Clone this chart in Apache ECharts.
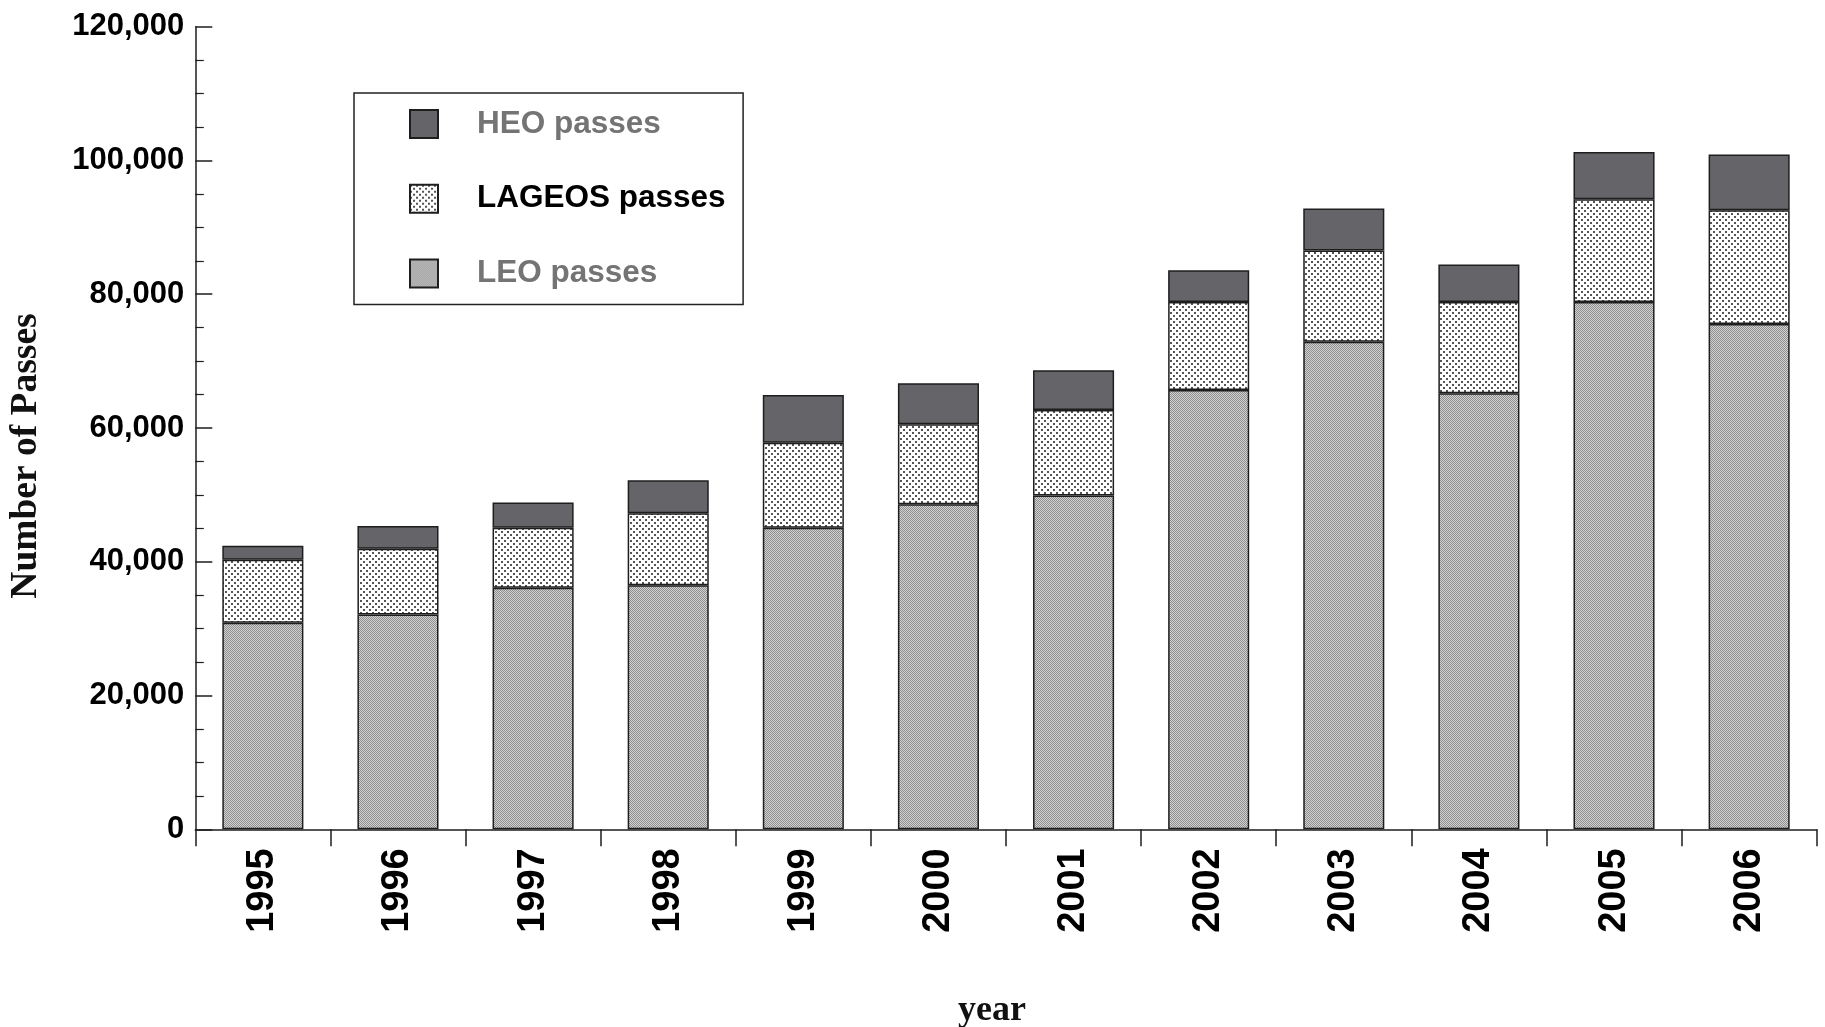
<!DOCTYPE html>
<html>
<head>
<meta charset="utf-8">
<title>Number of Passes by year</title>
<script src="https://cdn.jsdelivr.net/npm/echarts@6/dist/echarts.min.js"></script>
<style>
  html, body { margin: 0; padding: 0; background: #ffffff; }
  #chart { width: 1825px; height: 1027px; }
</style>
</head>
<body>
<div id="chart"></div>
<script>
// Yearly tracking passes, stacked by orbit class
const years = ['1995', '1996', '1997', '1998', '1999', '2000', '2001', '2002', '2003', '2004', '2005', '2006'];
const leoPasses = [30900, 32100, 36100, 36500, 45100, 48600, 49900, 65700, 72900, 65200, 78850, 75550];
const lageosPasses = [9400, 9850, 9000, 10750, 12700, 11950, 12800, 13150, 13650, 13650, 15350, 17000];
const heoPasses = [2100, 3400, 3750, 4950, 7150, 6150, 5950, 4750, 6250, 5600, 7050, 8350];
const yTicks = [0, 20000, 40000, 60000, 80000, 100000, 120000];

// Fill textures for the bar segments
function makeTile(w, h, draw) {
  const c = document.createElement('canvas');
  c.width = w; c.height = h;
  draw(c.getContext('2d'));
  return c;
}
const leoTile = makeTile(2, 2, ctx => {
  ctx.fillStyle = '#d2d2d2'; ctx.fillRect(0, 0, 2, 2);
  ctx.fillStyle = '#8e8e8e'; ctx.fillRect(0, 0, 1, 1); ctx.fillRect(1, 1, 1, 1);
});
const lageosTile = makeTile(6, 6, ctx => {
  ctx.fillStyle = '#ffffff'; ctx.fillRect(0, 0, 6, 6);
  ctx.fillStyle = '#555555'; ctx.fillRect(0, 0, 2, 2); ctx.fillRect(3, 3, 2, 2);
});
const leoFill = { image: leoTile, repeat: 'repeat' };
const lageosFill = { image: lageosTile, repeat: 'repeat' };
const heoFill = '#656468';

const edge = { borderColor: '#1e1e1e', borderWidth: 1.5 };

const chart = echarts.init(document.getElementById('chart'), null, { renderer: 'canvas' });

chart.setOption({
  backgroundColor: '#ffffff',
  animation: false,
  grid: {
    left: 195.3, right: 8.3, top: 26.7, bottom: 197.7,
    containLabel: false,
    outerBoundsMode: 'none'
  },
  legend: {
    orient: 'vertical',
    left: 354,
    top: 93,
    padding: [15, 17.5, 15, 55],
    itemWidth: 28,
    itemHeight: 28,
    itemGap: 42.7,
    icon: 'rect',
    borderColor: '#222222',
    borderWidth: 1.5,
    backgroundColor: '#ffffff',
    selectedMode: false,
    textStyle: {
      fontFamily: '"Liberation Sans", Arial, sans-serif',
      fontSize: 31.5,
      fontWeight: 'bold',
      lineHeight: 30,
      padding: [0, 0, 0, 34]
    },
    data: [
      { name: 'HEO passes', textStyle: { color: '#747474' } },
      { name: 'LAGEOS passes', textStyle: { color: '#000000' } },
      { name: 'LEO passes', textStyle: { color: '#747474' } }
    ]
  },
  xAxis: {
    type: 'category',
    data: years,
    name: 'year',
    nameLocation: 'middle',
    nameGap: 163,
    nameTextStyle: {
      fontFamily: '"Liberation Serif", "Times New Roman", serif',
      fontSize: 36,
      fontWeight: 'bold',
      color: '#111111',
      padding: [0, 28, 0, 0]
    },
    axisLine: { lineStyle: { color: '#1e1e1e', width: 1.5 } },
    axisTick: { show: true, alignWithLabel: false, inside: false, length: 17, lineStyle: { color: '#1e1e1e', width: 1.5 } },
    axisLabel: {
      rotate: 90,
      margin: 19,
      fontFamily: '"Liberation Sans", Arial, sans-serif',
      fontSize: 38,
      fontWeight: 'bold',
      color: '#000000',
      padding: [0, 0, 14, 0]
    },
    splitLine: { show: false }
  },
  yAxis: {
    type: 'value',
    min: yTicks[0],
    max: yTicks[yTicks.length - 1],
    interval: yTicks[1] - yTicks[0],
    name: 'Number of Passes',
    nameLocation: 'middle',
    nameGap: 150,
    nameTextStyle: {
      fontFamily: '"Liberation Serif", "Times New Roman", serif',
      fontSize: 37.5,
      fontWeight: 'bold',
      color: '#111111',
      padding: [0, 56, 0, 0]
    },
    axisLine: { show: true, lineStyle: { color: '#1e1e1e', width: 1.5 } },
    axisTick: { show: true, inside: true, length: 17, lineStyle: { color: '#1e1e1e', width: 1.5 } },
    minorTick: { show: true, splitNumber: 4, length: 8.5, lineStyle: { color: '#1e1e1e', width: 1.2 } },
    axisLabel: {
      margin: 11,
      fontFamily: '"Liberation Sans", Arial, sans-serif',
      fontSize: 31,
      fontWeight: 'bold',
      color: '#000000',
      padding: [0, 0, 12, 0],
      formatter: v => v.toLocaleString('en-US')
    },
    splitLine: { show: false }
  },
  series: [
    {
      name: 'LEO passes', type: 'bar', stack: 'passes', barWidth: '60%',
      itemStyle: Object.assign({ color: leoFill }, edge),
      emphasis: { disabled: true },
      data: leoPasses
    },
    {
      name: 'LAGEOS passes', type: 'bar', stack: 'passes', barWidth: '60%',
      itemStyle: Object.assign({ color: lageosFill }, edge),
      emphasis: { disabled: true },
      data: lageosPasses
    },
    {
      name: 'HEO passes', type: 'bar', stack: 'passes', barWidth: '60%',
      itemStyle: Object.assign({ color: heoFill }, edge),
      emphasis: { disabled: true },
      data: heoPasses
    }
  ]
});
</script>
</body>
</html>
